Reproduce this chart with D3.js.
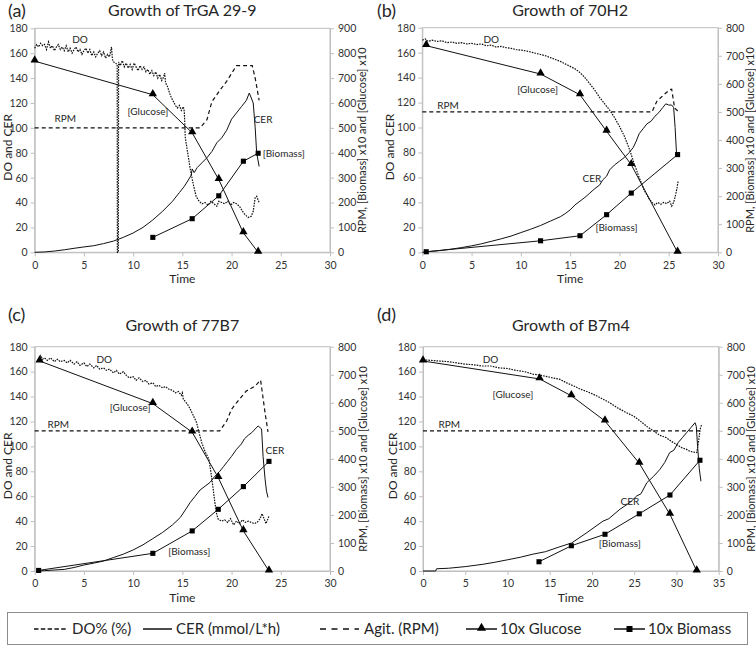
<!DOCTYPE html>
<html>
<head>
<meta charset="utf-8">
<script src="https://cdn.jsdelivr.net/npm/d3@7"></script>
<style>
  body { margin: 0; background: #fff; }
  svg text { font-family: Lato, "Liberation Sans", sans-serif; fill: #262626; }
</style>
</head>
<body>
<svg width="756" height="649"></svg>
<script>
// ---- data (t in h; DO/CER on left axis; RPM, glucose x10, biomass x10 on right axis)

// (a) TrGA 29-9
var doA = [[0,164],[0.2,167],[0.4,165],[0.6,168],[0.8,166],[1,167],[1.2,163],[1.4,169],[1.6,164],[1.8,166],[2,162],[2.2,165],[2.4,167],[2.6,163],[2.8,165],[3,162],[3.2,166],[3.4,161],[3.6,164],[3.8,160],[4,163],[4.2,165],[4.4,161],[4.6,163],[4.8,159],[5,162],[5.2,164],[5.4,160],[5.6,163],[5.8,158],[6,161],[6.2,157],[6.4,160],[6.6,162],[6.8,158],[7,161],[7.2,156],[7.4,159],[7.6,157],[7.8,165],[7.9,155],[8,153],[8.2,152],[8.38,151],[8.4,0],[8.5,0],[8.52,153],[8.7,150],[8.9,154],[9.1,149],[9.3,152],[9.5,148],[9.7,151],[9.9,147],[10.1,152],[10.3,149],[10.5,146],[10.7,150],[10.9,147],[11.1,149],[11.3,145],[11.5,147],[11.7,143],[11.9,146],[12.1,142],[12.3,145],[12.5,140],[12.7,143],[12.9,138],[13.1,141],[13.2,144],[13.3,136],[13.5,133],[13.7,128],[13.9,124],[14.1,121],[14.3,118],[14.5,116],[14.7,118],[14.9,114],[15.1,117],[15.2,113],[15.3,92],[15.5,82],[15.8,67],[16.1,55],[16.4,45],[16.7,41],[17,39],[17.3,40],[17.6,38],[17.9,41],[18.2,39],[18.5,37],[18.7,41],[19,40],[19.3,39],[19.6,41],[19.9,38],[20.2,40],[20.5,39],[20.8,37],[21.1,33],[21.4,30],[21.7,28],[22,29],[22.2,33],[22.4,44],[22.55,45],[22.8,40]];
var cerA = [[0,0],[1,0.3],[2,1],[3,2],[4,3.2],[5,4.3],[6,5.3],[7,7],[8,9],[9,12],[10,15.5],[11,20],[12,26],[13,33],[14,41],[14.7,48],[15.2,53],[15.6,58],[15.9,62],[16,67],[16.2,64],[16.5,68],[17,72],[17.5,76],[18,81],[18.5,88],[19,92],[19.5,98],[20,107],[20.5,112],[21,117],[21.5,122],[21.8,128],[22,124],[22.2,120],[22.4,100],[22.55,80],[22.8,69]];
var rpmA = [[0,500],[16.8,500],[17.5,533],[18,605],[18.8,650],[19.5,687],[20.5,750],[22.1,750],[22.4,700],[22.8,610]];
var glucA = [[0,768],[12,633],[16,480],[18.7,292],[21.2,78],[22.7,0]];
var bioA = [[12,60],[16,135],[18.7,227],[21.2,366],[22.7,398]];

// (b) 70H2
var doB = [[0,170],[0.3,171],[0.6,169],[1,170],[1.5,169],[2,169.5],[2.5,168],[3,168.5],[3.5,167.5],[4,168],[4.5,167],[5,167.5],[5.5,166.5],[6,167],[6.5,165.5],[7,166],[7.5,164.5],[8,165],[8.5,164],[9,163.5],[9.5,162.5],[10,162],[10.5,161.5],[11,160.5],[11.5,159.5],[12,158.5],[12.5,157.5],[13,156],[13.5,154.5],[14,153],[14.5,151],[15,149],[15.5,147],[16,144],[16.5,140],[17,135],[17.5,130],[18,124],[18.5,119],[19,114],[19.5,108],[20,101],[20.5,93],[21,83],[21.5,71],[22,60],[22.5,50],[23,43],[23.3,40],[23.6,38],[23.9,40],[24.2,38.5],[24.5,40],[24.8,39],[25.1,41],[25.3,37],[25.5,40],[25.7,46],[25.85,52],[25.95,57]];
var cerB = [[0,0],[1,0.8],[2,1.6],[3,2.6],[4,3.8],[5,5.2],[6,6.8],[7,8.8],[8,10.8],[9,13],[10,15.8],[11,18.5],[12,21.5],[13,25],[14,28.5],[14.5,31],[15,34],[15.5,38],[16,41],[16.5,44],[17,47.5],[17.5,51],[18,54],[18.3,58],[18.7,61],[19,66],[19.5,70],[20,73],[20.5,76],[21,80],[21.4,84],[21.7,89],[22,95],[22.4,99],[22.8,103],[23.2,105],[23.6,109],[24,112],[24.4,116],[24.7,119],[25,118],[25.3,118],[25.5,116],[25.65,100],[25.8,78]];
var rpmB = [[0,500],[23.3,500],[23.8,538],[24.5,561],[25.1,579],[25.3,581],[25.6,514],[25.95,502]];
var glucB = [[0.4,736],[12,635],[16,561],[18.7,431],[21.2,312],[25.9,0]];
var bioB = [[0.4,2],[12,41],[16,59],[18.7,134],[21.2,211],[25.9,348]];

// (c) 77B7
var doC = [[0.4,170],[0.6,173],[0.8,170],[1,171],[1.3,169],[1.6,171],[2,168],[2.3,170],[2.6,168],[3,169],[3.3,167],[3.6,169],[4,166],[4.3,168],[4.6,165],[5,167],[5.3,164],[5.6,166],[6,163],[6.3,165],[6.6,162],[7,163],[7.3,161],[7.6,162],[8,159],[8.3,161],[8.6,158],[9,160],[9.3,157],[9.6,155],[10,156],[10.3,153],[10.6,155],[11,152],[11.3,153],[11.6,150],[12,151],[12.3,148],[12.6,149],[13,147],[13.3,148],[13.6,146],[14,145],[14.3,143],[14.6,144],[14.9,141],[15,143],[15.1,138],[15.5,134],[15.8,130],[16.1,125],[16.45,119],[16.7,111],[16.97,103],[17.3,96],[17.7,89.6],[18,74],[18.3,55],[18.5,45],[18.65,41.5],[19,40],[19.3,41],[19.6,39],[19.9,42],[20.2,37],[20.5,40],[20.8,38],[21.1,41],[21.4,39],[21.7,40],[22,39],[22.3,38],[22.6,39],[22.9,42],[23.1,46],[23.3,42],[23.5,38],[23.7,42],[23.8,44]];
var cerC = [[0.3,0],[1,0.3],[2,0.8],[3,1.3],[4,2.8],[5,4.8],[6,6.3],[7,8],[8,10.8],[9,13.5],[10,16.9],[11,21],[12,26],[13,31],[14,37],[14.8,43],[15.3,49],[15.8,55],[16.3,60],[16.8,65],[17.3,68],[17.8,71],[18.3,76],[18.8,80],[19.2,84],[19.6,88],[20,92],[20.5,97.6],[21,102],[21.3,106],[21.7,109],[22.05,111],[22.4,114],[22.7,116.4],[23.05,114],[23.2,92],[23.4,74],[23.55,64],[23.7,59]];
var rpmC = [[0,500],[18.8,500],[19.5,535],[20,577],[20.5,600],[21.5,642],[22.4,660],[22.95,681],[23.4,565],[23.7,496]];
var glucC = [[0.5,749],[12,597],[16,495],[18.65,333],[21.2,143],[23.8,0]];
var bioC = [[0.4,2],[12,63],[16,143],[18.65,220],[21.2,301],[23.8,391]];

// (d) B7m4
var doD = [[0,169.5],[1,169],[2,168.5],[3,168],[4,167],[5,166],[6,165.5],[7,164.5],[8,164.5],[9,163],[10,162.5],[11,161],[12,160],[13,158],[14,157],[15,155.5],[16.2,153.8],[17,151],[18,148],[18.6,146],[19.4,144],[20.1,142],[21,139],[22.1,135],[23,131],[24.1,127],[25,124],[25.7,120.4],[26.5,116],[27.3,112.3],[28,109],[28.8,107],[29.4,104],[30,101.7],[30.6,99],[31.2,97.6],[31.6,96],[32,95.5],[32.4,95],[32.6,103],[32.8,113.7],[33,118]];
var cerD = [[0,0],[1.5,0],[1.6,1.8],[3,2.2],[5,3.5],[7,5.3],[8.5,7],[10,9],[11.5,11],[13,13.5],[14.5,15.5],[16,19],[17.6,22.5],[19.4,30.8],[21.3,40],[22,42],[23.3,49.5],[24.5,55],[25.3,60.2],[25.8,62],[26.5,70.9],[27.3,76],[28.05,81.6],[28.6,87],[29.2,95],[29.7,97],[30.2,103],[30.7,107],[31.2,111],[31.7,115],[32.2,119],[32.35,116],[32.5,100],[32.7,82],[32.9,72]];
var rpmD = [[0,500],[32.95,500]];
var glucD = [[0,749],[13.8,685],[17.56,625],[21.54,535],[25.6,384],[29.23,202],[32.4,0]];
var bioD = [[13.73,33],[17.56,90],[21.54,131],[25.6,204],[29.23,271],[32.78,395]];

// tick values
var leftTicks = d3.range(0, 181, 20);
var legendItems = ["DO% (%)", "CER (mmol/L*h)", "Agit. (RPM)", "10x Glucose", "10x Biomass"];

// ---- layout
var panels = [
  { tag: "(a)", title: "Growth of TrGA 29-9", box: { l: 34.7, r: 330, t: 28.3, b: 252.3 }, xMax: 30, rMax: 900,
    tagX: 8, tagY: 17, titleY: 16, lTitleX: 8, rTitleX: 362,
    series: { DO: doA, CER: cerA, RPM: rpmA, G: glucA, B: bioA },
    notes: [["DO", 4.6, 171], ["RPM", 3.1, 107.7], ["[Glucose]", 11.5, 113], ["CER", 23.2, 107], ["[Biomass]", 25.3, 79]] },
  { tag: "(b)", title: "Growth of 70H2", box: { l: 422.3, r: 718, t: 27.7, b: 252.3 }, xMax: 30, rMax: 800,
    tagX: 377, tagY: 17, titleY: 16, lTitleX: 390, rTitleX: 750,
    series: { DO: doB, CER: cerB, RPM: rpmB, G: glucB, B: bioB },
    notes: [["DO", 7, 170.7], ["RPM", 2.6, 118], ["[Glucose]", 11.7, 130.6], ["CER", 17.2, 59.3], ["[Biomass]", 19.7, 19.7]] },
  { tag: "(c)", title: "Growth of 77B7", box: { l: 34.7, r: 330, t: 346.7, b: 571 }, xMax: 30, rMax: 800,
    tagX: 8, tagY: 321, titleY: 331, lTitleX: 8, rTitleX: 363,
    series: { DO: doC, CER: cerC, RPM: rpmC, G: glucC, B: bioC },
    notes: [["DO", 7.07, 170], ["RPM", 2.4, 117.7], ["[Glucose]", 9.7, 131.4], ["CER", 24.4, 96.3], ["[Biomass]", 15.7, 16]] },
  { tag: "(d)", title: "Growth of B7m4", box: { l: 423, r: 718.7, t: 346.7, b: 571 }, xMax: 35, rMax: 800,
    tagX: 377, tagY: 321, titleY: 331, lTitleX: 393, rTitleX: 751,
    series: { DO: doD, CER: cerD, RPM: rpmD, G: glucD, B: bioD },
    notes: [["DO", 8, 170], ["RPM", 3.1, 117.7], ["[Glucose]", 10.65, 141.8], ["CER", 24.5, 55.6], ["[Biomass]", 23.3, 22.2]] }
];

var svg = d3.select("svg");
var gridGray = "#bfbfbf";

var doDash = "1.6,1.1";
var rpmDash = "4,3";

function drawPanel(p) {
  var b = p.box;
  var x = d3.scaleLinear().domain([0, p.xMax]).range([b.l, b.r]);
  var yL = d3.scaleLinear().domain([0, 180]).range([b.b, b.t]);
  var yR = d3.scaleLinear().domain([0, p.rMax]).range([b.b, b.t]);
  var g = svg.append("g");

  // plot frame
  g.append("rect")
    .attr("x", b.l).attr("y", b.t)
    .attr("width", b.r - b.l).attr("height", b.b - b.t)
    .attr("fill", "none").attr("stroke", gridGray).attr("stroke-width", 1);

  // axes
  var xAxis = g.append("g").attr("transform", "translate(0," + b.b + ")")
    .call(d3.axisBottom(x).tickValues(d3.range(0, p.xMax + 1, 5)).tickSize(4).tickSizeOuter(0).tickPadding(5));
  var lAxis = g.append("g").attr("transform", "translate(" + b.l + ",0)")
    .call(d3.axisLeft(yL).tickValues(leftTicks).tickSize(4).tickSizeOuter(0).tickPadding(3));
  var rAxis = g.append("g").attr("transform", "translate(" + b.r + ",0)")
    .call(d3.axisRight(yR).tickValues(d3.range(0, p.rMax + 1, 100)).tickSize(4).tickSizeOuter(0).tickPadding(4));
  [xAxis, lAxis, rAxis].forEach(function (a) {
    a.select(".domain").attr("stroke", gridGray);
    a.selectAll(".tick line").attr("stroke", gridGray);
    a.selectAll(".tick text").attr("font-size", 10.5).style("fill", "#333")
      .style("font-family", "Lato, 'Liberation Sans', sans-serif");
  });

  // titles
  g.append("text").text(p.tag).attr("x", p.tagX).attr("y", p.tagY)
    .attr("font-size", 18);
  g.append("text").text(p.title).attr("x", (b.l + b.r) / 2).attr("y", p.titleY)
    .attr("text-anchor", "middle").attr("font-size", 16);
  g.append("text").text("Time").attr("x", (b.l + b.r) / 2).attr("y", b.b + 31)
    .attr("text-anchor", "middle").attr("font-size", 12);
  var midY = (b.t + b.b) / 2 + 7;
  g.append("text").text("DO and CER")
    .attr("transform", "translate(" + p.lTitleX + "," + midY + ") rotate(-90)")
    .attr("dy", "0.35em").attr("text-anchor", "middle").attr("font-size", 12);
  g.append("text").text("RPM, [Biomass] x10 and [Glucose] x10")
    .attr("transform", "translate(" + p.rTitleX + "," + ((b.t + b.b) / 2) + ") rotate(-90)")
    .attr("dy", "0.35em").attr("text-anchor", "middle").attr("font-size", 11);

  var lineL = d3.line().x(function (d) { return x(d[0]); }).y(function (d) { return yL(d[1]); });
  var lineR = d3.line().x(function (d) { return x(d[0]); }).y(function (d) { return yR(d[1]); });

  // RPM
  g.append("path").datum(p.series.RPM).attr("d", lineR)
    .attr("fill", "none").attr("stroke", "#111").attr("stroke-width", 1.2).attr("stroke-dasharray", rpmDash);
  // DO
  g.append("path").datum(p.series.DO).attr("d", lineL)
    .attr("fill", "none").attr("stroke", "#111").attr("stroke-width", 1.2).attr("stroke-dasharray", doDash);
  // CER
  g.append("path").datum(p.series.CER).attr("d", lineL)
    .attr("fill", "none").attr("stroke", "#111").attr("stroke-width", 1);
  // glucose
  g.append("path").datum(p.series.G).attr("d", lineR)
    .attr("fill", "none").attr("stroke", "#111").attr("stroke-width", 1);
  g.selectAll(".tri").data(p.series.G).enter().append("path")
    .attr("d", d3.symbol(d3.symbolTriangle).size(30))
    .attr("transform", function (d) { return "translate(" + x(d[0]) + "," + (yR(d[1]) - 1) + ")"; })
    .attr("fill", "#000");
  // biomass
  g.append("path").datum(p.series.B).attr("d", lineR)
    .attr("fill", "none").attr("stroke", "#111").attr("stroke-width", 1);
  g.selectAll(".sq").data(p.series.B).enter().append("path")
    .attr("d", d3.symbol(d3.symbolSquare).size(26))
    .attr("transform", function (d) { return "translate(" + x(d[0]) + "," + yR(d[1]) + ")"; })
    .attr("fill", "#000");

  // in-plot labels
  g.selectAll(".note").data(p.notes).enter().append("text")
    .text(function (d) { return d[0]; })
    .attr("x", function (d) { return x(d[1]); })
    .attr("y", function (d) { return yL(d[2]); })
    .attr("dy", "0.35em").attr("text-anchor", "middle").attr("font-size", 10);
}

panels.forEach(drawPanel);

// ---- legend
var lg = svg.append("g");
lg.append("rect").attr("x", 7.5).attr("y", 612.5).attr("width", 740).attr("height", 32)
  .attr("fill", "#fff").attr("stroke", "#8c8c8c").attr("stroke-width", 1);
var ly = 629;
var samples = [
  { x1: 34, x2: 67, dash: "4.5,2.3", tx: 72 },
  { x1: 143, x2: 172, dash: null, tx: 176 },
  { x1: 320, x2: 359, dash: "6,5.5", tx: 364 },
  { x1: 466, x2: 497, dash: null, tx: 500, mark: d3.symbolTriangle, size: 36 },
  { x1: 614, x2: 645, dash: null, tx: 648, mark: d3.symbolSquare, size: 36 }
];
samples.forEach(function (s, i) {
  lg.append("line").attr("x1", s.x1).attr("x2", s.x2).attr("y1", ly).attr("y2", ly)
    .attr("stroke", "#111").attr("stroke-width", s.dash === "4.5,2.3" ? 1.3 : 1.5)
    .attr("stroke-dasharray", s.dash);
  if (s.mark) {
    lg.append("path").attr("d", d3.symbol(s.mark).size(s.size))
      .attr("transform", "translate(" + ((s.x1 + s.x2) / 2) + "," + (ly - (s.mark === d3.symbolTriangle ? 1 : 0)) + ")")
      .attr("fill", "#000");
  }
  lg.append("text").text(legendItems[i]).attr("x", s.tx).attr("y", ly).attr("dy", "0.35em")
    .attr("font-size", 15);
});
</script>
</body>
</html>
